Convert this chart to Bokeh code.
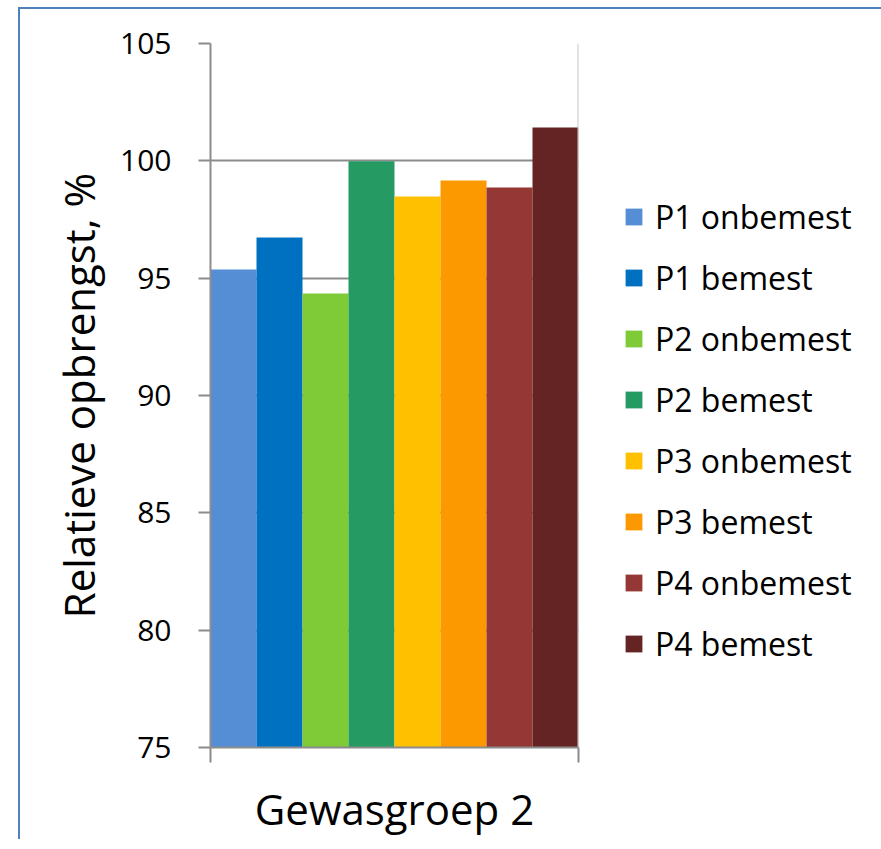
from bokeh.plotting import figure
from bokeh.models import (Range1d, FixedTicker, Legend, LegendItem, ColumnDataSource)
from bokeh.embed import file_html
from bokeh.resources import INLINE

# ---- data ----
series = ["P1 onbemest", "P1 bemest", "P2 onbemest", "P2 bemest",
          "P3 onbemest", "P3 bemest", "P4 onbemest", "P4 bemest"]
values = [95.37, 96.73, 94.35, 99.98, 98.48, 99.16, 98.86, 101.42]
colors = ["#558ED5", "#0070C0", "#7ECB37", "#259A62",
          "#FFC000", "#FD9900", "#953735", "#632423"]
group = "Gewasgroep 2"
y_ticks = [75, 80, 85, 90, 95, 100, 105]

FONT = "Open Sans"

p = figure(frame_width=368, frame_height=704, output_backend="svg", toolbar_location=None,
           x_range=Range1d(0, len(series)), y_range=Range1d(75, 105),
           min_border_left=190, min_border_top=34, min_border_right=300,
           min_border_bottom=88)
p.margin = (7, -30, 0, 18)
p.styles = {"border-top": "2px solid #4F81BD", "border-left": "2px solid #4F81BD",
            "border-right": "2px solid #4F81BD"}
p.outline_line_color = None
p.background_fill_color = "white"
p.border_fill_color = "white"

items = []
for i, (s, v, c) in enumerate(zip(series, values, colors)):
    src = ColumnDataSource(dict(x=[i + 0.5], top=[v]))
    r = p.vbar(x="x", top="top", bottom=75, width=1.0, source=src,
               fill_color=c, line_color=None)
    items.append(LegendItem(label=s, renderers=[r]))

# right border line of plot area
p.line(x=[len(series), len(series)], y=[75, 105], line_color="#C8C8C8", line_width=2)

# y axis
p.yaxis.ticker = FixedTicker(ticks=y_ticks)
p.yaxis.axis_label = "Relatieve opbrengst, %"
p.yaxis.axis_label_text_font = FONT
p.yaxis.axis_label_text_font_size = "42px"
p.yaxis.axis_label_text_font_style = "normal"
p.yaxis.axis_label_text_color = "black"
p.yaxis.axis_label_standoff = 10
p.yaxis.major_label_text_font = FONT
p.yaxis.major_label_text_font_size = "30px"
p.yaxis.major_label_text_color = "black"
p.yaxis.major_label_standoff = 27
p.yaxis.axis_line_color = "#8C8C8C"
p.yaxis.axis_line_width = 2
p.yaxis.major_tick_line_color = "#8C8C8C"
p.yaxis.major_tick_line_width = 2
p.yaxis.major_tick_out = 12
p.yaxis.major_tick_in = 0
p.yaxis.minor_tick_line_color = None

# x axis
p.xaxis.ticker = FixedTicker(ticks=[0, len(series)])
p.xaxis.major_label_overrides = {0: "", len(series): ""}
p.xaxis.major_label_text_font_size = "1px"
p.xaxis.axis_label = group
p.xaxis.axis_label_text_font = FONT
p.xaxis.axis_label_text_font_size = "42px"
p.xaxis.axis_label_text_font_style = "normal"
p.xaxis.axis_label_text_color = "black"
p.xaxis.axis_label_standoff = 17
p.xaxis.axis_line_color = "#8C8C8C"
p.xaxis.axis_line_width = 2
p.xaxis.major_tick_line_color = "#8C8C8C"
p.xaxis.major_tick_line_width = 2
p.xaxis.major_tick_out = 15
p.xaxis.major_tick_in = 0
p.xaxis.minor_tick_line_color = None

p.xgrid.grid_line_color = None
p.ygrid.ticker = FixedTicker(ticks=y_ticks)
p.ygrid.grid_line_color = "#8C8C8C"
p.ygrid.grid_line_width = 2

legend = Legend(items=items, location=(45, 82),
                label_text_font=FONT, label_text_font_size="32px",
                label_text_color="black",
                glyph_width=21, glyph_height=21, spacing=18,
                label_standoff=11, padding=0, margin=0,
                border_line_color=None, background_fill_alpha=0)
p.add_layout(legend, "right")

open("out.html", "w").write(file_html(p, INLINE))
